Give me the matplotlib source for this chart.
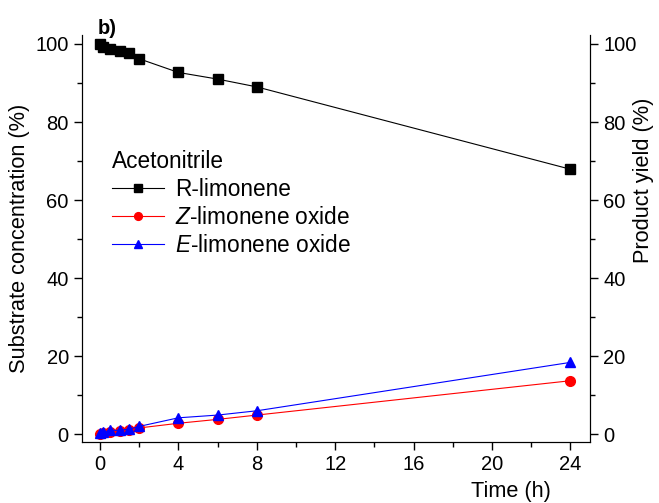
import matplotlib
matplotlib.use('Agg')
import matplotlib.pyplot as plt
from matplotlib.ticker import MultipleLocator

plt.rcParams['font.family'] = ['Liberation Sans', 'DejaVu Sans']
plt.rcParams['mathtext.fontset'] = 'custom'
plt.rcParams['mathtext.it'] = 'Liberation Sans:italic'
plt.rcParams['mathtext.rm'] = 'Liberation Sans'

# data
time_r = [0, 0.17, 0.5, 1, 1.5, 2, 4, 6, 8, 24]
r_limonene = [100, 99.3, 98.6, 98.3, 97.6, 96.2, 92.7, 91.0, 89.0, 67.9]
time_p = [0, 0.17, 0.5, 1, 1.5, 2, 4, 6, 8, 24]
z_oxide = [0, 0.2, 0.5, 0.8, 1.0, 1.6, 2.8, 3.8, 4.9, 13.7]
e_oxide = [0.2, 0.5, 1.0, 1.0, 1.3, 2.0, 4.2, 4.9, 6.0, 18.4]

fs = 14.5      # tick labels
fl = 15.7      # axis labels
fleg = 16.3    # legend

fig = plt.figure(figsize=(6.59, 5.03), dpi=100)
ax = fig.add_axes([82/659, 1-442/503, (590-82)/659, (442-35)/503])

ax.plot(time_r, r_limonene, '-s', color='black', lw=0.8, ms=6.5, label='R-limonene')
ax.plot(time_p, z_oxide, '-o', color='red', lw=0.8, ms=7, mfc='red', mec='red',
        label=r'$\it{Z}$-limonene oxide')
ax.plot(time_p, e_oxide, '-^', color='blue', lw=0.8, ms=7.5, mfc='blue', mec='blue',
        label=r'$\it{E}$-limonene oxide')

ax.set_xlim(-0.92, 25.0)
ax.set_ylim(-2, 102.3)
ax.xaxis.set_major_locator(MultipleLocator(4))
ax.xaxis.set_minor_locator(MultipleLocator(2))
ax.yaxis.set_major_locator(MultipleLocator(20))
ax.yaxis.set_minor_locator(MultipleLocator(10))
ax.spines['top'].set_visible(False)
ax.tick_params(which='both', direction='out', labelsize=fs, width=1)
ax.tick_params(which='major', length=6)
ax.tick_params(which='minor', length=3.5)
ax.set_ylabel('Substrate concentration (%)', fontsize=fl)
ax.set_xlabel('Time (h)', fontsize=fl)
ax.xaxis.set_label_coords(0.845, -0.097)

ax2 = ax.twinx()
ax2.set_ylim(ax.get_ylim())
ax2.yaxis.set_major_locator(MultipleLocator(20))
ax2.yaxis.set_minor_locator(MultipleLocator(10))
ax2.spines['top'].set_visible(False)
ax2.tick_params(which='both', direction='out', labelsize=fs, width=1)
ax2.tick_params(which='major', length=6)
ax2.tick_params(which='minor', length=3.5)
ax2.set_ylabel('Product yield (%)', fontsize=fl)
ax2.yaxis.set_label_coords(1.085, 0.644)

leg = ax.legend(loc='upper left', bbox_to_anchor=(0.027, 0.757), frameon=False,
                title='Acetonitrile', fontsize=fleg, title_fontsize=fleg,
                handlelength=2.3, handletextpad=0.5, labelspacing=0.22,
                borderpad=0.2, alignment='left', markerscale=0.8)

fig.text(98/659, 1-28/503, 'b)', fontsize=fs, fontweight='bold', va='center')

fig.savefig('out.png', dpi=100)
